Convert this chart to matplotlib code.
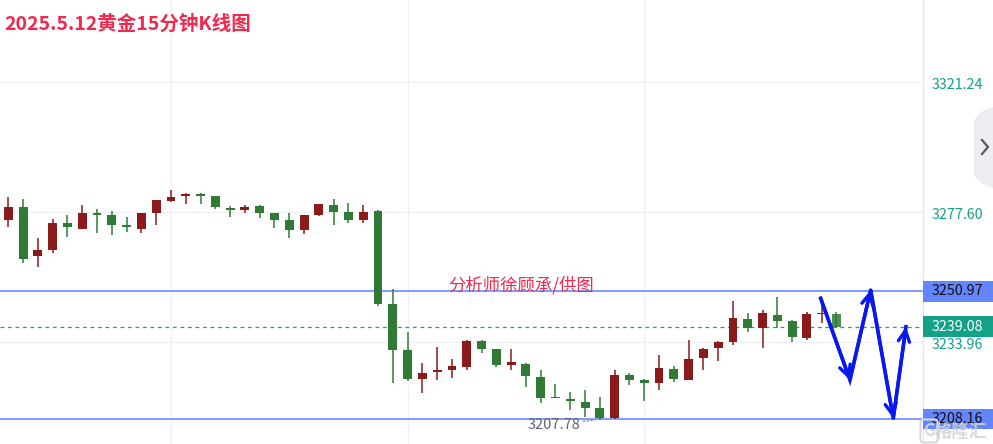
import matplotlib.pyplot as plt
from matplotlib import transforms
from matplotlib.patches import Rectangle, Polygon
from matplotlib.lines import Line2D

plt.rcParams['font.family'] = ['Noto Sans CJK SC', 'DejaVu Sans']

# 15-minute candles (red = up, green = down)
opens = [3274.91, 3279.38, 3262.83, 3264.84, 3274.01, 3271.89, 3277.37, 3276.59, 3273.24, 3271.89,
         3277.37, 3281.39, 3282.97, 3283.64, 3282.97, 3279.04, 3278.27, 3279.61, 3277.37, 3274.91,
         3271.56, 3276.59, 3279.95, 3277.70, 3274.91, 3277.94, 3246.72, 3231.27, 3221.54, 3223.99,
         3224.56, 3225.47, 3234.29, 3231.61, 3226.24, 3226.57, 3222.31, 3215.20, 3214.82, 3213.92,
         3211.90, 3208.35, 3222.78, 3221.20, 3220.09, 3224.90, 3221.20, 3228.49, 3231.84, 3234.06,
         3241.68, 3238.56, 3243.02, 3241.11, 3235.20, 3243.36, 3243.36]
closes = [3279.38, 3261.82, 3264.84, 3274.01, 3272.46, 3277.37, 3276.69, 3273.24, 3272.46, 3277.37,
          3281.63, 3282.74, 3283.64, 3282.97, 3279.18, 3278.27, 3279.18, 3277.37, 3274.91, 3271.56,
          3276.59, 3280.29, 3277.70, 3274.91, 3277.70, 3246.72, 3231.27, 3221.54, 3223.45, 3224.56,
          3225.90, 3234.29, 3231.61, 3226.24, 3227.35, 3222.55, 3215.06, 3215.06, 3214.25, 3211.70,
          3208.35, 3222.88, 3221.20, 3220.09, 3225.33, 3221.54, 3228.25, 3231.61, 3234.06, 3242.12,
          3238.56, 3243.80, 3241.11, 3235.54, 3243.36, 3243.45, 3239.08]
highs = [3282.53, 3281.96, 3268.97, 3275.15, 3276.59, 3279.95, 3278.51, 3278.04, 3276.02, 3277.37,
         3281.63, 3284.99, 3284.08, 3284.08, 3282.97, 3279.61, 3279.95, 3279.95, 3277.37, 3277.37,
         3276.59, 3280.29, 3281.96, 3280.72, 3279.95, 3278.27, 3251.65, 3237.42, 3227.01, 3232.18,
         3228.15, 3234.63, 3234.63, 3231.61, 3231.61, 3226.81, 3224.56, 3219.86, 3217.27, 3217.85,
         3215.39, 3224.56, 3223.65, 3221.54, 3229.59, 3225.90, 3234.63, 3232.05, 3234.29, 3247.72,
         3243.80, 3244.70, 3248.96, 3241.34, 3244.13, 3246.72, 3244.13]
lows = [3272.46, 3260.58, 3259.24, 3263.94, 3269.31, 3271.89, 3270.45, 3269.88, 3270.99, 3270.65,
        3273.24, 3281.06, 3280.29, 3280.29, 3278.61, 3276.02, 3277.37, 3275.69, 3272.33, 3268.97,
        3270.21, 3276.26, 3273.24, 3274.01, 3274.01, 3246.04, 3220.09, 3220.87, 3216.74, 3221.20,
        3221.77, 3224.56, 3230.37, 3225.47, 3224.56, 3218.95, 3213.38, 3215.06, 3211.13, 3208.88,
        3207.78, 3208.20, 3219.52, 3214.15, 3217.85, 3220.63, 3221.20, 3224.56, 3227.58, 3232.95,
        3237.42, 3232.05, 3238.56, 3233.86, 3234.63, 3240.44, 3238.56]

grid_prices = [3321.24, 3277.60, 3233.96]
grid_bars = [11, 27, 43]
resistance = 3250.97
support = 3208.16
last_price = 3239.08
low_label = 3207.78

# forecast zig-zag drawn by the analyst (bar index, price)
path_x = [54.93, 56.91, 58.31, 59.84, 60.70]
path_y = [3248.63, 3221.20, 3251.42, 3208.35, 3239.08]

title = "2025.5.12黄金15分钟K线图"
credit = "分析师徐顾承/供图"

RED = "#8b1a1a"
GREEN = "#2f7a35"
TEAL = "#13a188"
BLUE_LINE = "#7e9bff"
BLUE_BOX = "#6585ff"

W, H = 993, 444
fig = plt.figure(figsize=(W / 100, H / 100), dpi=100)
ax = fig.add_axes([0, 0, 923 / W, 1])
ax.set_xlim(-0.561, 61.85)
ax.set_ylim(3199.71, 3348.77)
for side in ax.spines.values():
    side.set_visible(False)
ax.set_xticks([])
ax.set_yticks([])


def px(x, y):
    # figure pixel (top-left origin) -> figure fraction
    return x / W, 1 - y / H


for p in grid_prices:
    ax.axhline(p, color="#f0f0f4", lw=1, zorder=0)
for b in grid_bars:
    ax.axvline(b, color="#f0f0f4", lw=1, zorder=0)

ax.axhline(resistance, color=BLUE_LINE, lw=1.4, zorder=1)
ax.axhline(support, color=BLUE_LINE, lw=1.4, zorder=1)
ax.axhline(last_price, color=TEAL, lw=0.9, ls=(0, (3, 3)), zorder=1)

# candles
n = len(opens)
idx = list(range(n))
cols = [RED if c >= o else GREEN for o, c in zip(opens, closes)]
bottoms = [min(o, c) for o, c in zip(opens, closes)]
heights = [max(abs(c - o), 0.35) for o, c in zip(opens, closes)]
ax.vlines(idx, lows, highs, colors=cols, lw=1.1, zorder=2)
bars = ax.bar(idx, heights, bottom=bottoms, width=0.6, color=cols, zorder=3, linewidth=0)
bars[-1].set_alpha(0.85)

# minimum marker
ax.annotate("3207.78", xy=(40 - 0.35, low_label), xytext=(-14, -5), textcoords="offset pixels",
            ha="right", va="center", fontsize=10.5, color="#5c6370",
            arrowprops=dict(arrowstyle="-", ls=":", color="#8a8f99", lw=1, shrinkA=0, shrinkB=0))

ax.text(34.67, 3252.9, credit, fontsize=12.5, fontweight="medium", color="#f2294e",
        ha="center", va="center", zorder=5)

# analyst zig-zag with arrow heads
ax.plot(path_x, path_y, color="#0a18f0", lw=2.6, solid_joinstyle="miter", zorder=6)
for i in range(len(path_x) - 1):
    ax.annotate("", xy=(path_x[i + 1], path_y[i + 1]), xytext=(path_x[i], path_y[i]),
                arrowprops=dict(arrowstyle="->,head_length=0.8,head_width=0.4", color="#0a18f0",
                                lw=2.4, shrinkA=0, shrinkB=0), zorder=6)

# right price scale
blend = transforms.blended_transform_factory(ax.transAxes, ax.transData)
ax.add_line(Line2D([1, 1], [3199.71, 3348.77], transform=blend, color="#e6e6ea", lw=1, clip_on=False))
for p in grid_prices:
    ax.annotate(f"{p:.2f}", xy=(1, p), xycoords=blend, xytext=(9, -3), textcoords="offset pixels",
                ha="left", va="center", fontsize=10.3, color=TEAL, annotation_clip=False)

box_w = (W - 923) / 923
box_h = 10.3 / 2.979
for p, fc, tc in [(resistance, BLUE_BOX, "#111111"), (support, BLUE_BOX, "#111111"),
                  (last_price, TEAL, "white")]:
    ax.add_patch(Rectangle((1, p - box_h), box_w, 2 * box_h, transform=blend,
                           facecolor=fc, edgecolor="none", clip_on=False, zorder=7))
    ax.annotate(f"{p:.2f}", xy=(1, p), xycoords=blend, xytext=(9, 0), textcoords="offset pixels",
                ha="left", va="center", fontsize=10.3, color=tc, annotation_clip=False, zorder=8)

# collapse button on the right edge
btn = [px(993, 107), px(981, 112), px(974, 120), px(974, 176), px(981, 183), px(993, 188)]
fig.patches.append(Polygon(btn, closed=True, transform=fig.transFigure,
                           facecolor="#ececf1", edgecolor="none"))
chev = [px(982, 140), px(988, 147), px(982, 154)]
fig.lines.append(Line2D([c[0] for c in chev], [c[1] for c in chev], transform=fig.transFigure,
                        color="#555a63", lw=1.6))

# watermark (sits over the support tag, as in the source)
fig.text(*px(929, 431), "G", fontsize=12, fontweight="bold", color="#d8d8dc", alpha=0.9,
         ha="center", va="center",
         bbox=dict(boxstyle="round,pad=0.15", fc="none", ec="#d8d8dc", lw=1.5), zorder=9)
fig.text(*px(961, 432), "格隆汇", fontsize=12.5, fontweight="bold", color="#d2d2d6", alpha=0.85,
         ha="center", va="center", zorder=9)

fig.text(*px(4, 24), title, fontsize=14, fontweight="bold", color="#f2294e", ha="left", va="center")

fig.savefig("out.png", dpi=100)
